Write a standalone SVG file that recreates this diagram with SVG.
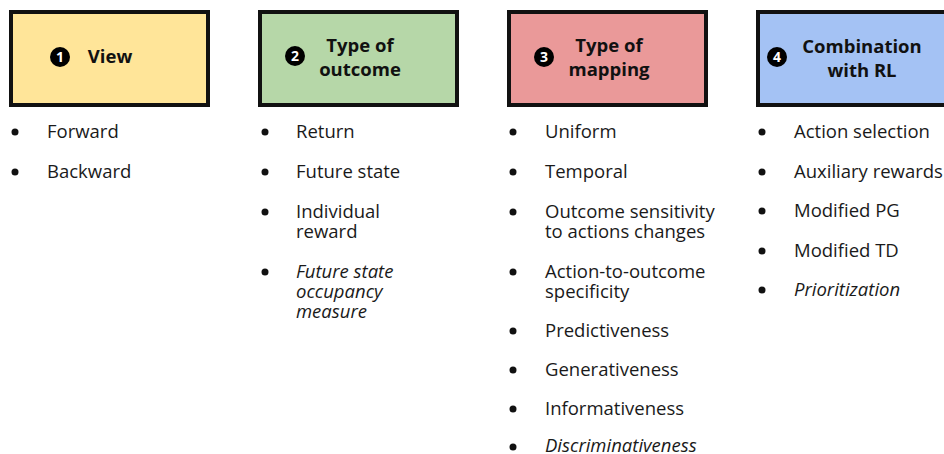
<svg xmlns="http://www.w3.org/2000/svg" width="944" height="454" viewBox="0 0 944 454">
<style>
.box{stroke:#111;stroke-width:4}
.num{fill:#000}
.numt{fill:#fff;font-family:"Open Sans","Liberation Sans",sans-serif;font-weight:bold;font-size:14px;text-anchor:middle}
.title{fill:#111;font-family:"Open Sans","Liberation Sans",sans-serif;font-weight:bold;font-size:18.5px;text-anchor:middle}
.item{fill:#1a1a1a;font-family:"Open Sans","Liberation Sans",sans-serif;font-size:18.5px}
.it{font-style:italic}
.dot{fill:#111}
</style>
<rect width="944" height="454" fill="#fff"/>
<g id="node1">
<rect class="box" x="11" y="12" width="197" height="93" fill="#FFE599"/>
<circle class="num" cx="60" cy="57" r="10"/>
<text class="numt" x="60" y="62">1</text>
<text class="title" x="110" y="63">View</text>
</g>
<g id="node2">
<rect class="box" x="260" y="12" width="197" height="93" fill="#B6D7A8"/>
<circle class="num" cx="295" cy="56" r="10"/>
<text class="numt" x="295" y="61">2</text>
<text class="title" x="360" y="52">Type of</text>
<text class="title" x="360" y="76">outcome</text>
</g>
<g id="node3">
<rect class="box" x="509" y="12" width="197" height="93" fill="#EA9999"/>
<circle class="num" cx="544" cy="57" r="10"/>
<text class="numt" x="544" y="62">3</text>
<text class="title" x="609" y="52">Type of</text>
<text class="title" x="609" y="76">mapping</text>
</g>
<g id="node4">
<rect class="box" x="758" y="12" width="197" height="93" fill="#A4C2F4"/>
<circle class="num" cx="777" cy="57" r="10"/>
<text class="numt" x="777" y="62">4</text>
<text class="title" x="862" y="53">Combination</text>
<text class="title" x="862" y="77">with RL</text>
</g>
<g id="connectors"></g>
<g id="list1">
<circle class="dot" cx="15" cy="132" r="3.5"/><text class="item" x="47" y="138">Forward</text>
<circle class="dot" cx="15" cy="172" r="3.5"/><text class="item" x="47" y="178">Backward</text>
</g>
<g id="list2">
<circle class="dot" cx="265" cy="132" r="3.5"/><text class="item" x="296" y="138">Return</text>
<circle class="dot" cx="265" cy="172" r="3.5"/><text class="item" x="296" y="178">Future state</text>
<circle class="dot" cx="265" cy="212" r="3.5"/><text class="item" x="296" y="218">Individual</text><text class="item" x="296" y="238">reward</text>
<circle class="dot" cx="265" cy="272" r="3.5"/><text class="item it" x="296" y="278">Future state</text><text class="item it" x="296" y="298">occupancy</text><text class="item it" x="296" y="318">measure</text>
</g>
<g id="list3">
<circle class="dot" cx="513" cy="132" r="3.5"/><text class="item" x="545" y="138">Uniform</text>
<circle class="dot" cx="513" cy="172" r="3.5"/><text class="item" x="545" y="178">Temporal</text>
<circle class="dot" cx="513" cy="212" r="3.5"/><text class="item" x="545" y="218">Outcome sensitivity</text><text class="item" x="545" y="238">to actions changes</text>
<circle class="dot" cx="513" cy="272" r="3.5"/><text class="item" x="545" y="278">Action-to-outcome</text><text class="item" x="545" y="298">specificity</text>
<circle class="dot" cx="513" cy="331" r="3.5"/><text class="item" x="545" y="337">Predictiveness</text>
<circle class="dot" cx="513" cy="370" r="3.5"/><text class="item" x="545" y="376">Generativeness</text>
<circle class="dot" cx="513" cy="409" r="3.5"/><text class="item" x="545" y="415">Informativeness</text>
<circle class="dot" cx="513" cy="447" r="3.5"/><text class="item it" x="545" y="452">Discriminativeness</text>
</g>
<g id="list4">
<circle class="dot" cx="762" cy="132" r="3.5"/><text class="item" x="794" y="138">Action selection</text>
<circle class="dot" cx="762" cy="172" r="3.5"/><text class="item" x="794" y="178">Auxiliary rewards</text>
<circle class="dot" cx="762" cy="211" r="3.5"/><text class="item" x="794" y="217">Modified PG</text>
<circle class="dot" cx="762" cy="251" r="3.5"/><text class="item" x="794" y="257">Modified TD</text>
<circle class="dot" cx="762" cy="290" r="3.5"/><text class="item it" x="794" y="296">Prioritization</text>
</g>
</svg>
